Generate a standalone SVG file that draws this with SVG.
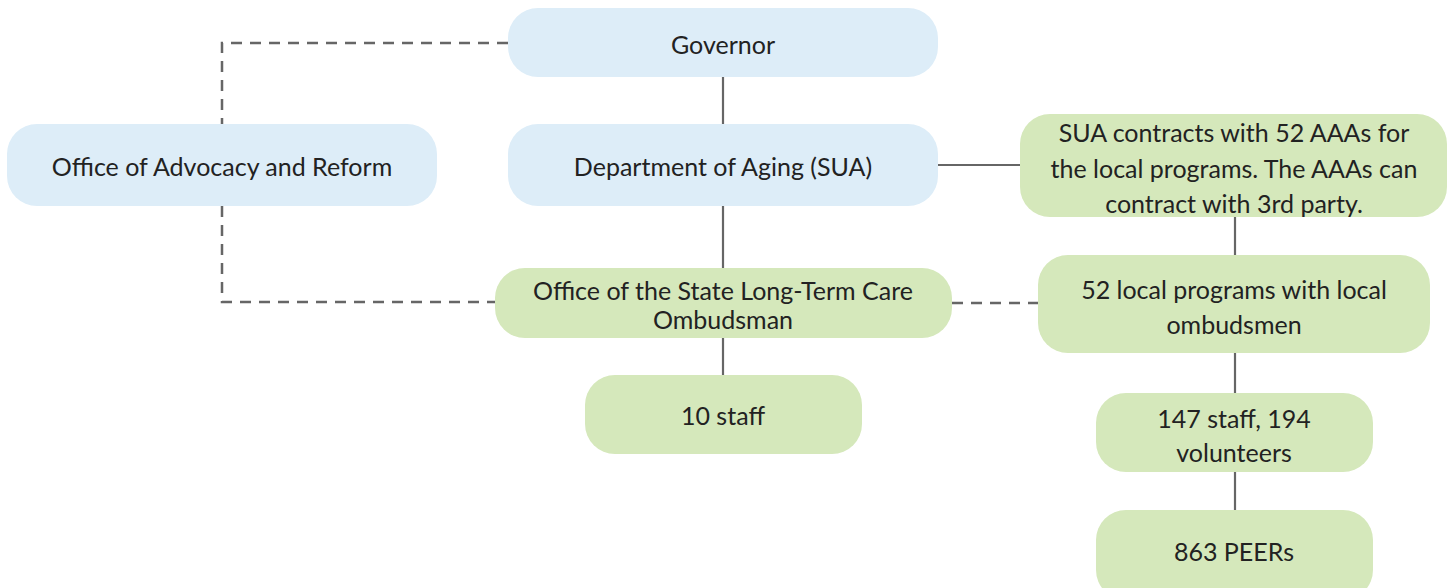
<svg xmlns="http://www.w3.org/2000/svg" width="1456" height="588" viewBox="0 0 1456 588">
<style>
.blue{fill:#ddedf8}
.green{fill:#d5e8bb}
.t{font-family:Lato,"Open Sans","Liberation Sans",sans-serif;font-size:25px;fill:#222;text-anchor:middle}
.s{stroke:#666;stroke-width:2.2;fill:none}
.d{stroke:#666;stroke-width:2.5;fill:none;stroke-dasharray:11,8}
</style>
<rect width="1456" height="588" fill="#fff"/>
<g id="connectors">
<line class="s" x1="723" y1="77" x2="723" y2="124"/>
<line class="s" x1="723" y1="206" x2="723" y2="268"/>
<line class="s" x1="723" y1="338" x2="723" y2="375"/>
<line class="s" x1="938" y1="165" x2="1020" y2="165"/>
<line class="s" x1="1235" y1="217" x2="1235" y2="255"/>
<line class="s" x1="1235" y1="353" x2="1235" y2="393"/>
<line class="s" x1="1235" y1="472" x2="1235" y2="510"/>
<path class="d" d="M508 43 H222 V124"/>
<path class="d" d="M222 206 V302 H495"/>
<path class="d" d="M952 303 H1038"/>
</g>
<g id="governor"><rect class="blue" x="508" y="8" width="430" height="69" rx="30"/><text class="t" x="723" y="54">Governor</text></g>
<g id="advocacy"><rect class="blue" x="7" y="124" width="430" height="82" rx="30"/><text class="t" x="222" y="176">Office of Advocacy and Reform</text></g>
<g id="aging"><rect class="blue" x="508" y="124" width="430" height="82" rx="30"/><text class="t" x="723" y="176">Department of Aging (SUA)</text></g>
<g id="sua-contracts"><rect class="green" x="1020" y="114" width="427" height="103" rx="30"/><text class="t" x="1234" y="142">SUA contracts with 52 AAAs for</text><text class="t" x="1234" y="178">the local programs. The AAAs can</text><text class="t" x="1234" y="213">contract with 3rd party.</text></g>
<g id="oltco"><rect class="green" x="495" y="268" width="457" height="70" rx="30"/><text class="t" x="723" y="300">Office of the State Long-Term Care</text><text class="t" x="723" y="329">Ombudsman</text></g>
<g id="local-programs"><rect class="green" x="1038" y="255" width="392" height="98" rx="30"/><text class="t" x="1234" y="299">52 local programs with local</text><text class="t" x="1234" y="334">ombudsmen</text></g>
<g id="staff10"><rect class="green" x="585" y="375" width="277" height="79" rx="30"/><text class="t" x="723" y="425">10 staff</text></g>
<g id="staff147"><rect class="green" x="1096" y="393" width="277" height="79" rx="30"/><text class="t" x="1234" y="428">147 staff, 194</text><text class="t" x="1234" y="462">volunteers</text></g>
<g id="peers"><rect class="green" x="1096" y="510" width="277" height="90" rx="30"/><text class="t" x="1234" y="561">863 PEERs</text></g>
</svg>
